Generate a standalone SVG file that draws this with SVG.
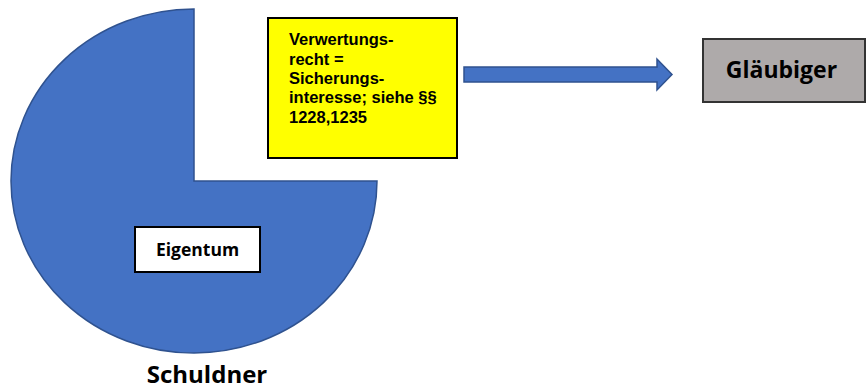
<svg xmlns="http://www.w3.org/2000/svg" width="866" height="389" viewBox="0 0 866 389">
<style>
.bw{font-family:"Open Sans","Noto Sans","Liberation Sans",sans-serif;font-weight:bold;fill:#000}
.ar{font-family:"Liberation Sans",Arial,sans-serif;font-weight:bold;font-size:16.5px;fill:#000}
</style>
<rect width="866" height="389" fill="#fff"/>
<g id="schuldner">
<path d="M194,181 L194,9 A183,172 0 1,0 377,181 Z" fill="#4472C4" stroke="#2F528F" stroke-width="1.5"/>
<text class="bw" x="207" y="383" font-size="24" text-anchor="middle">Schuldner</text>
</g>
<g id="eigentum">
<rect x="135" y="227" width="125" height="45" fill="#fff" stroke="#000" stroke-width="2"/>
<text class="bw" x="197.5" y="256" font-size="17.5" text-anchor="middle">Eigentum</text>
</g>
<g id="verwertungsrecht">
<rect x="268" y="18" width="189" height="140" fill="#FFFF00" stroke="#000" stroke-width="2"/>
<text class="ar" x="289" y="45">Verwertungs-</text>
<text class="ar" x="289" y="64.5">recht =</text>
<text class="ar" x="289" y="84">Sicherungs-</text>
<text class="ar" x="289" y="103.3">interesse; siehe §§</text>
<text class="ar" x="289" y="122.5">1228,1235</text>
</g>
<g id="glaeubiger">
<rect x="703" y="39" width="162" height="63" fill="#AEAAAA" stroke="#333" stroke-width="2"/>
<text class="bw" x="781.5" y="78" font-size="23" text-anchor="middle">Gläubiger</text>
</g>
<g id="connectors">
<path d="M464,67 L657,67 L657,59 L672,74.5 L657,90 L657,82 L464,82 Z" fill="#4472C4" stroke="#2F528F" stroke-width="1.5"/>
</g>
</svg>
